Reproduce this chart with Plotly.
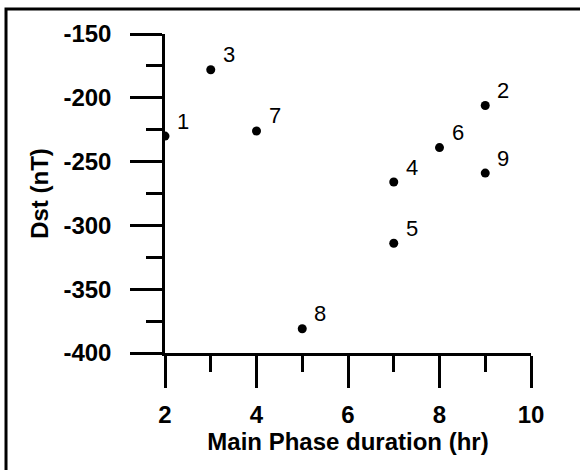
import plotly.graph_objects as go

# Data
duration_hr = [2, 9, 3, 7, 7, 8, 4, 5, 9]
dst_nT = [-230, -206, -178, -266, -314, -239, -226, -381, -259]
event_labels = ["1", "2", "3", "4", "5", "6", "7", "8", "9"]

x_ticks = [2, 4, 6, 8, 10]
y_ticks = [-400, -350, -300, -250, -200, -150]

FONT = "Liberation Sans, Arial, sans-serif"

fig = go.Figure()
fig.add_trace(go.Scatter(
    x=duration_hr, y=dst_nT, mode="markers",
    marker=dict(size=9, color="black"),
    showlegend=False, hoverinfo="skip",
))

for xv, yv, lab in zip(duration_hr, dst_nT, event_labels):
    fig.add_annotation(
        x=xv, y=yv, text=lab, showarrow=False,
        xanchor="left", yanchor="middle", xshift=10, yshift=15,
        font=dict(family=FONT, size=22, color="black"),
    )

axis_common = dict(
    showgrid=False, zeroline=False, showline=True, linecolor="black", linewidth=2.5,
    ticks="outside", ticklen=32, tickwidth=2.5, tickcolor="black",
    tickfont=dict(family=FONT, size=24, color="black", weight="bold"),
)

fig.update_xaxes(
    range=[2, 10], tickvals=x_ticks, ticktext=[str(v) for v in x_ticks],
    minor=dict(dtick=1, tick0=2, ticklen=16, tickwidth=2.5, tickcolor="black", ticks="outside"),
    title=dict(text="Main Phase duration (hr)", standoff=3,
               font=dict(family=FONT, size=24, color="black", weight="bold")),
    ticklabelstandoff=6,
    **axis_common,
)
fig.update_yaxes(
    range=[-400, -150], tickvals=y_ticks, ticktext=[str(v) for v in y_ticks],
    minor=dict(dtick=25, tick0=-400, ticklen=16, tickwidth=2.5, tickcolor="black", ticks="outside"),
    title=dict(text="Dst (nT)", standoff=9,
               font=dict(family=FONT, size=24, color="black", weight="bold")),
    ticklabelstandoff=14,
    **axis_common,
)

# Outer frame (cropped at right/bottom in the reference)
fig.add_shape(type="rect", xref="paper", yref="paper",
              x0=-0.4344, x1=1.2, y0=-0.5, y1=1.0784,
              line=dict(color="black", width=3), fillcolor="rgba(0,0,0,0)")

fig.update_layout(
    width=580, height=470,
    margin=dict(l=165, r=49, t=34, b=117),
    paper_bgcolor="white", plot_bgcolor="white",
    font=dict(family=FONT, color="black"),
)

fig.write_html("out.html")
